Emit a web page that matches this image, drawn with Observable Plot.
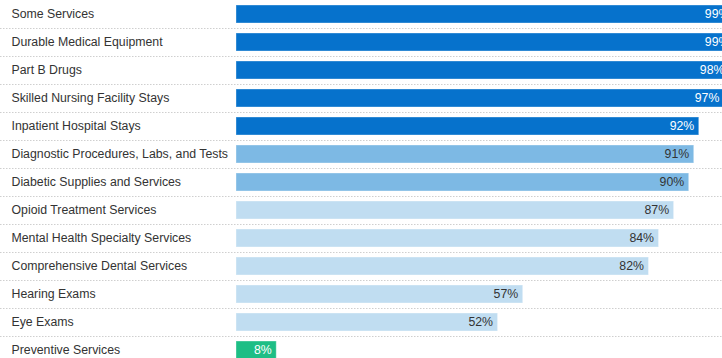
<!DOCTYPE html>
<html>
<head>
<meta charset="utf-8">
<script src="https://cdn.jsdelivr.net/npm/d3@7"></script>
<script src="https://cdn.jsdelivr.net/npm/@observablehq/plot@0.6"></script>
<style>
  html, body { margin: 0; padding: 0; background: #fff; overflow: hidden; }
  #chart svg { display: block; }
</style>
</head>
<body>
<div id="chart"></div>
<script>
const categories = [
  "Some Services",
  "Durable Medical Equipment",
  "Part B Drugs",
  "Skilled Nursing Facility Stays",
  "Inpatient Hospital Stays",
  "Diagnostic Procedures, Labs, and Tests",
  "Diabetic Supplies and Services",
  "Opioid Treatment Services",
  "Mental Health Specialty Services",
  "Comprehensive Dental Services",
  "Hearing Exams",
  "Eye Exams",
  "Preventive Services"
];
const values = [99, 99, 98, 97, 92, 91, 90, 87, 84, 82, 57, 52, 8];
const groups = ["high","high","high","high","high","mid","mid","low","low","low","low","low","prev"];
const groupNames = ["high", "mid", "low", "prev"];
const groupColors = ["#0672cc", "#7db9e4", "#c0ddf1", "#1dbe85"];
const labelColors = {high: "#ffffff", mid: "#333333", low: "#333333", prev: "#ffffff"};

const data = categories.map((c, i) => ({category: c, value: values[i], group: groups[i]}));

const chart = Plot.plot({
  width: 722,
  height: 358,
  marginLeft: 0,
  marginRight: 0,
  marginTop: 0,
  marginBottom: 0,
  style: {fontFamily: "'Liberation Sans', Arial, sans-serif", background: "#fff"},
  x: {domain: [0, 100], range: [236, 739], axis: null},
  y: {domain: categories, range: [0, 364], paddingInner: 10/28, paddingOuter: 5/28, round: false, axis: null},
  color: {domain: groupNames, range: groupColors},
  marks: [
    Plot.ruleY(categories, {y: d => d, dy: 14, stroke: "#cfcfcf", strokeDasharray: "1.5,1.5", strokeWidth: 1}),
    Plot.barX(data, {x: "value", y: "category", fill: "group", stroke: "#ffffff", strokeOpacity: 0.35, strokeWidth: 1}),
    Plot.text(data, {y: "category", text: "category", frameAnchor: "left", dx: 11, textAnchor: "start", fill: "#333", fontSize: 12.3}),
    Plot.text(data, {x: "value", y: "category", text: d => d.value + "%", dx: -5, textAnchor: "end", fill: d => labelColors[d.group], fontSize: 12.3})
  ]
});
document.getElementById("chart").appendChild(chart);
</script>
</body>
</html>
